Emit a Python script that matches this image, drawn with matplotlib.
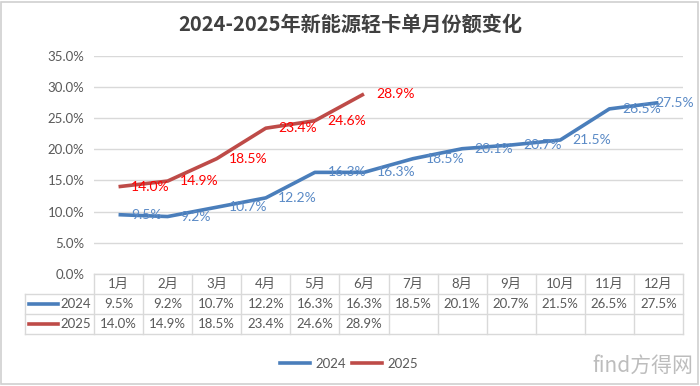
import matplotlib
matplotlib.use('Agg')
import matplotlib.pyplot as plt
from matplotlib.lines import Line2D
from matplotlib.patches import Rectangle
from matplotlib import transforms

plt.rcParams['font.family'] = ['Lato', 'Noto Sans CJK SC', 'DejaVu Sans']

months = ['1月', '2月', '3月', '4月', '5月', '6月', '7月', '8月', '9月', '10月', '11月', '12月']
share_2024 = [9.5, 9.2, 10.7, 12.2, 16.3, 16.3, 18.5, 20.1, 20.7, 21.5, 26.5, 27.5]
share_2025 = [14.0, 14.9, 18.5, 23.4, 24.6, 28.9]
yticks = [0, 5, 10, 15, 20, 25, 30, 35]

blue = '#4A7EBB'
red = '#BE4B48'
blue_txt = '#5A8AC6'
red_txt = '#FF0000'
grid_c = '#D9D9D9'
txt_c = '#595959'

W, H = 700, 386
fig = plt.figure(figsize=(W / 100, H / 100), dpi=100)

def fx(px):
    return px / W

def fy(py):
    return 1 - py / H

# outer frame
fig.add_artist(Rectangle((0.002, 0.004), 0.995, 0.99, transform=fig.transFigure,
                         fill=False, edgecolor='#D0D0D0', lw=1.2))

ax_top, ax_bot = 56, 273.8
ax = fig.add_axes([fx(94), fy(ax_bot), fx(683) - fx(94), (ax_bot - ax_top) / H])

x = list(range(len(months)))
ax.plot(x, share_2024, color=blue, lw=2.6, solid_capstyle='butt', zorder=3)
ax.plot(x[:len(share_2025)], share_2025, color=red, lw=2.6, solid_capstyle='butt', zorder=3)

for i, v in enumerate(share_2024):
    off = (9, 0) if i < len(share_2024) - 1 else (-2, 0)
    ax.annotate(f'{v:.1f}%', (i, v), xytext=off, textcoords='offset points',
                ha='left', va='center', color=blue_txt, fontsize=10, zorder=4,
                annotation_clip=False)
for i, v in enumerate(share_2025):
    ax.annotate(f'{v:.1f}%', (i, v), xytext=(9, 0), textcoords='offset points',
                ha='left', va='center', color=red_txt, fontsize=10, zorder=4,
                annotation_clip=False)

ax.set_xlim(-0.5, len(months) - 0.5)
ax.set_ylim(0, 35)
ax.set_yticks(yticks)
ax.set_yticklabels([f'{t:.1f}%' for t in yticks], color=txt_c, fontsize=9.5)
ax.set_xticks([])
ax.tick_params(axis='y', length=0, pad=7)
ax.grid(axis='y', color=grid_c, lw=1)
ax.set_axisbelow(True)
for s in ax.spines.values():
    s.set_visible(False)

# data table under the axis
tr = transforms.blended_transform_factory(ax.transData, fig.transFigure)
rows_y = [ax_bot, 294, 314, 334]
n = len(months)
lk = dict(color=grid_c, lw=1, clip_on=False)
fig.add_artist(Line2D([-0.5, n - 0.5], [fy(rows_y[0])] * 2, transform=tr, **lk))
for ry in rows_y[1:]:
    fig.add_artist(Line2D([fx(25), fx(683)], [fy(ry)] * 2, transform=fig.transFigure, **lk))
for b in range(n + 1):
    fig.add_artist(Line2D([b - 0.5, b - 0.5], [fy(rows_y[0]), fy(rows_y[3])], transform=tr, **lk))
fig.add_artist(Line2D([fx(25), fx(25)], [fy(rows_y[1]), fy(rows_y[3])], transform=fig.transFigure, **lk))

def cy(r):
    return fy((rows_y[r] + rows_y[r + 1]) / 2)

for i, m in enumerate(months):
    fig.text(i, cy(0), m, transform=tr, ha='center', va='center', color=txt_c, fontsize=9.5)
    fig.text(i, cy(1), f'{share_2024[i]:.1f}%', transform=tr, ha='center', va='center',
             color=txt_c, fontsize=9.5)
    if i < len(share_2025):
        fig.text(i, cy(2), f'{share_2025[i]:.1f}%', transform=tr, ha='center', va='center',
                 color=txt_c, fontsize=9.5)

for r, (lab, c) in enumerate([('2024', blue), ('2025', red)], start=1):
    fig.add_artist(Line2D([fx(29), fx(58)], [cy(r)] * 2, transform=fig.transFigure,
                          color=c, lw=2.6))
    fig.text(fx(91), cy(r), lab, ha='right', va='center', color=txt_c, fontsize=9.5)

# legend
handles = [Line2D([], [], color=blue, lw=2.6), Line2D([], [], color=red, lw=2.6)]
fig.legend(handles, ['2024', '2025'], loc='center', bbox_to_anchor=(fx(349), fy(364)),
           ncol=2, frameon=False, fontsize=9.5, handlelength=2.3, handletextpad=0.4,
           columnspacing=0.4, labelcolor=txt_c)

fig.text(0.5, fy(24), '2024-2025年新能源轻卡单月份额变化', ha='center', va='center',
         fontsize=14.5, fontweight='bold', color='#404040',
         family=['Noto Sans CJK SC', 'DejaVu Sans'])

# watermark
fig.text(0.99, fy(366), 'find方得网', ha='right', va='center', fontsize=15,
         color='#BDBDBD', family=['Noto Sans CJK SC', 'DejaVu Sans'])

fig.savefig('out.png', dpi=100)
